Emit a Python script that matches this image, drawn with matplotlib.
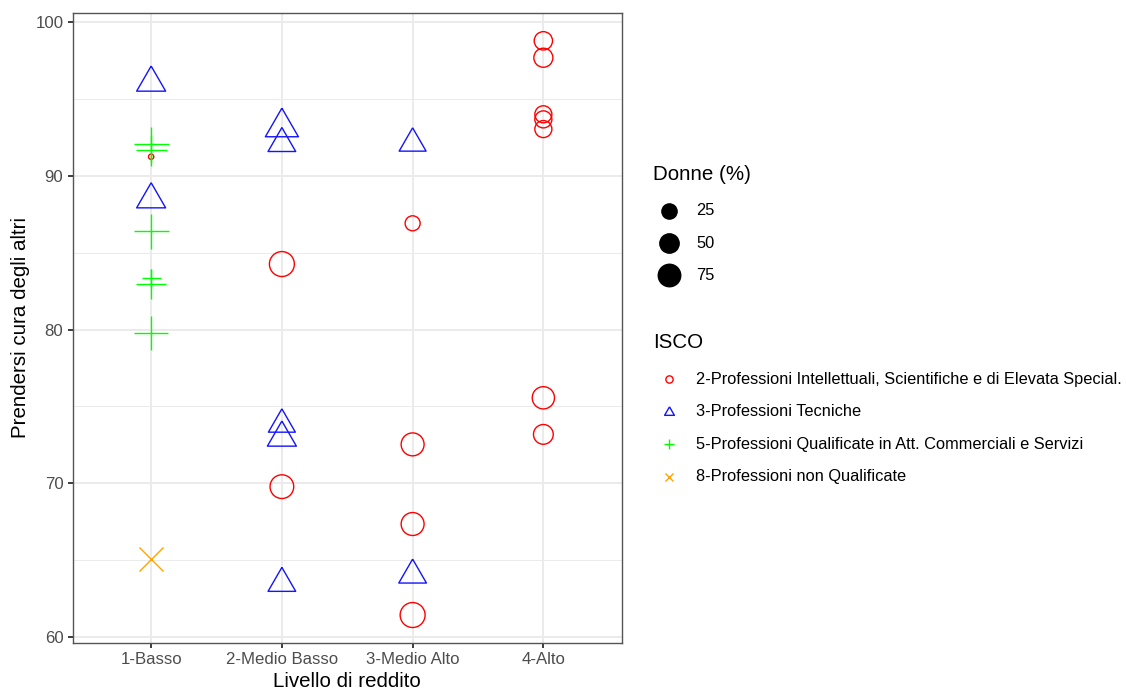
import matplotlib
matplotlib.use("Agg")
import matplotlib.pyplot as plt
from matplotlib.lines import Line2D
import numpy as np

plt.rcParams['font.family'] = ['Liberation Sans', 'DejaVu Sans']

# Dati
livelli = ["1-Basso", "2-Medio Basso", "3-Medio Alto", "4-Alto"]
isco_nomi = [
    "2-Professioni Intellettuali, Scientifiche e di Elevata Special.",
    "3-Professioni Tecniche",
    "5-Professioni Qualificate in Att. Commerciali e Servizi",
    "8-Professioni non Qualificate",
]
isco_colori = ["#FF0000", "#1414FF", "#00FF00", "#FFA500"]
donne_legenda = [25, 50, 75]

# ISCO 2
liv_2 = [1, 2, 2, 3, 3, 3, 3, 4, 4, 4, 4, 4, 4, 4]
cura_2 = [91.24, 84.26, 69.78, 86.91, 72.53, 67.35, 61.43, 98.78, 97.68, 94.0, 93.67, 93.04, 75.56, 73.18]
donne_2 = [0, 98, 86, 24, 79, 79, 98, 43, 48, 35, 35, 35, 73, 53]
# ISCO 3
liv_3 = [1, 1, 2, 2, 2, 2, 2, 3, 3]
cura_3 = [96.05, 88.46, 93.16, 92.10, 73.83, 72.96, 63.49, 92.11, 64.03]
donne_3 = [67, 67, 94, 59, 55, 67, 59, 55, 59]
# ISCO 5
liv_5 = [1, 1, 1, 1, 1, 1]
cura_5 = [92.05, 91.67, 86.39, 83.35, 82.98, 79.79]
donne_5 = [96, 70, 96, 17, 64, 89]
# ISCO 8
liv_8 = [1]
cura_8 = [65.05]
donne_8 = [89]

# triangolo equilatero centrato (come pch 2 di R)
triangolo = [(0, 1), (-0.866, -0.5), (0.866, -0.5), (0, 1)]


def fontsize_pt(v, size=None):
    # scala area come ggplot: size 1..6 mm
    if size is None:
        size = 1 + 5 * np.sqrt(np.asarray(v, dtype=float) / 100)
    return size * 72.27 / 25.4 + 0.5 * 3.78 / 2


# fattore dimensione marker rispetto al fontsize di R
fattori = {"o": 0.75, "tri": 1.166, "+": 1.06, "x": 0.75}
lw_pt = 0.75

fig = plt.figure(figsize=(1126 / 134, 691 / 134), dpi=134)
ax = fig.add_axes([72.7 / 1126, 1 - 642.7 / 691, (621.8 - 72.7) / 1126, (642.7 - 13.3) / 691])

gruppi = [
    (liv_2, cura_2, donne_2, "o", isco_colori[0]),
    (liv_3, cura_3, donne_3, "tri", isco_colori[1]),
    (liv_5, cura_5, donne_5, "+", isco_colori[2]),
    (liv_8, cura_8, donne_8, "x", isco_colori[3]),
]
for liv, cura, donne, m, col in gruppi:
    ms = fattori[m] * fontsize_pt(donne)
    marker = triangolo if m == "tri" else m
    if m in ("o", "tri"):
        ax.scatter(liv, cura, s=ms ** 2, marker=marker, facecolors="none",
                   edgecolors=col, linewidths=lw_pt, zorder=3)
    else:
        ax.scatter(liv, cura, s=ms ** 2, marker=marker, color=col,
                   linewidths=lw_pt, zorder=3)

ax.set_xlim(0.4, 4.6)
ax.set_ylim(59.63, 100.57)
ax.set_xticks(range(1, 5))
ax.set_xticklabels(livelli)
ax.set_yticks([60, 70, 80, 90, 100])
ax.set_yticks([65, 75, 85, 95], minor=True)
ax.grid(True, which="major", color="#EBEBEB", linewidth=1.07, zorder=0)
ax.grid(True, which="minor", axis="y", color="#EBEBEB", linewidth=0.53, zorder=0)
ax.set_axisbelow(True)
ax.tick_params(which="major", length=2.75, width=1.0, color="#333333",
               labelsize=9, labelcolor="#4D4D4D", pad=2.2)
ax.tick_params(which="minor", length=0)
for sp in ax.spines.values():
    sp.set_color("#555555")
    sp.set_linewidth(0.75)
ax.set_xlabel("Livello di reddito", fontsize=11, labelpad=2.75)
ax.set_ylabel("Prendersi cura degli altri", fontsize=11, labelpad=2.75)


def fx(px):
    return px / 1126


def fy(py):
    return 1 - py / 691


# legenda Donne (%)
fig.text(fx(653), fy(175), "Donne (%)", fontsize=11, va="center", ha="left")
for i, v in enumerate(donne_legenda):
    y = 210.7 + i * 32.3
    d = 0.75 * fontsize_pt(v)
    fig.add_artist(Line2D([fx(669)], [fy(y)], marker="o", markersize=d,
                          color="black", markeredgewidth=lw_pt, linestyle="none",
                          transform=fig.transFigure))
    fig.text(fx(696), fy(y), str(v), fontsize=8.8, va="center", ha="left")

# legenda ISCO
fig.text(fx(653), fy(342.7), "ISCO", fontsize=11, va="center", ha="left")
chiave = fontsize_pt(None, size=1.5)
for i, (nome, col, m) in enumerate(zip(isco_nomi, isco_colori, ["o", "tri", "+", "x"])):
    y = 379.3 + i * 32.5
    marker = triangolo if m == "tri" else m
    kw = dict(markerfacecolor="none") if m in ("o", "tri") else {}
    fig.add_artist(Line2D([fx(669)], [fy(y)], marker=marker, markersize=fattori[m] * chiave,
                          color=col, markeredgewidth=lw_pt, linestyle="none",
                          transform=fig.transFigure, **kw))
    fig.text(fx(696), fy(y), nome, fontsize=8.8, va="center", ha="left")

fig.savefig("out.png", dpi=134)
